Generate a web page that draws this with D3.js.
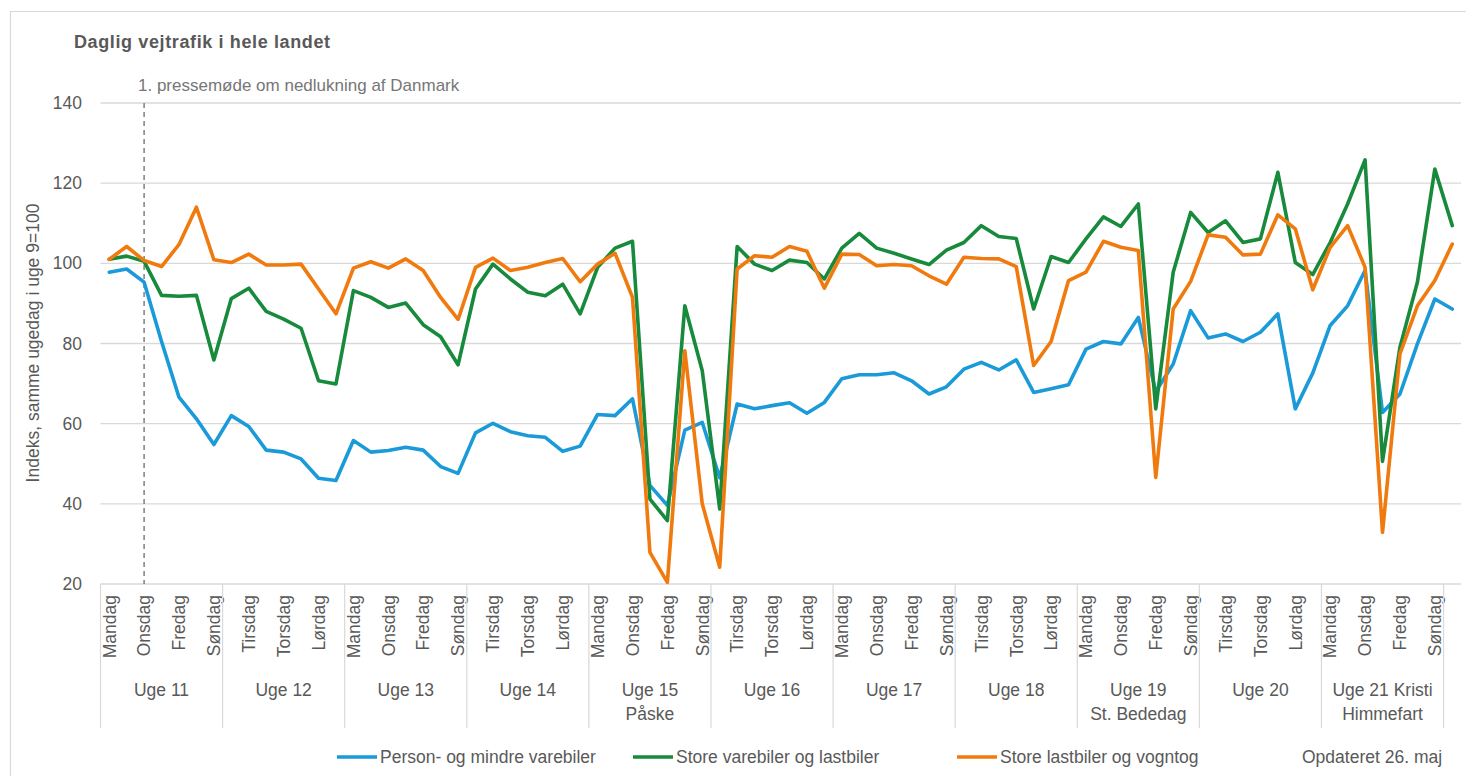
<!DOCTYPE html>
<html>
<head>
<meta charset="utf-8">
<script src="https://cdn.jsdelivr.net/npm/d3@7"></script>
<style>
  html, body { margin: 0; padding: 0; background: #fff; }
  svg { display: block; }
  text { font-family: "Liberation Sans", Arial, sans-serif; fill: #595959; }
</style>
</head>
<body>
<svg id="chart" width="1466" height="776"></svg>
<script>
// ---------- DATA ----------
const dayNames = ["Mandag", "Tirsdag", "Onsdag", "Torsdag", "Fredag", "Lørdag", "Søndag"];
const weekLabels = [
  ["Uge 11"], ["Uge 12"], ["Uge 13"], ["Uge 14"], ["Uge 15", "Påske"],
  ["Uge 16"], ["Uge 17"], ["Uge 18"], ["Uge 19", "St. Bededag"], ["Uge 20"],
  ["Uge 21 Kristi", "Himmefart"]
];
const yTicks = [20, 40, 60, 80, 100, 120, 140];
const seriesNames = ["Person- og mindre varebiler", "Store varebiler og lastbiler", "Store lastbiler og vogntog"];

const personbiler = [
  97.8, 98.6, 95.3, 80.5, 66.6, 61.2, 54.8,
  62.0, 59.3, 53.4, 52.9, 51.2, 46.4, 45.8,
  55.8, 52.9, 53.3, 54.1, 53.4, 49.3, 47.6,
  57.7, 60.1, 58.0, 57.0, 56.6, 53.1, 54.4,
  62.3, 62.0, 66.2, 44.6, 39.6, 58.4, 60.3,
  46.5, 64.9, 63.7, 64.5, 65.2, 62.6, 65.3,
  71.2, 72.2, 72.2, 72.7, 70.7, 67.4, 69.2,
  73.6, 75.3, 73.4, 75.9, 67.8, 68.7, 69.7,
  78.6, 80.5, 79.9, 86.5, 68.0, 74.9, 88.2,
  81.4, 82.4, 80.5, 82.8, 87.4, 63.7, 72.6,
  84.5, 89.4, 98.2, 62.8, 67.4, 79.9, 91.1,
  88.6
];
const storeVarebiler = [
  101.0, 101.8, 100.5, 92.0, 91.8, 92.0, 75.9,
  91.2, 93.8, 88.0, 86.1, 83.8, 70.7, 69.9,
  93.2, 91.5, 89.0, 90.1, 84.7, 81.7, 74.7,
  93.6, 99.8, 96.1, 92.8, 91.9, 94.8, 87.4,
  99.0, 103.8, 105.5, 41.2, 35.8, 89.4, 73.2,
  38.7, 104.2, 99.8, 98.2, 100.8, 100.2, 96.1,
  103.8, 107.5, 103.8, 102.5, 101.1, 99.7, 103.3,
  105.2, 109.4, 106.7, 106.2, 88.6, 101.7, 100.2,
  106.1, 111.6, 109.2, 114.8, 63.7, 97.8, 112.7,
  107.7, 110.6, 105.2, 106.1, 122.7, 100.2, 97.2,
  105.2, 114.8, 125.8, 50.6, 79.1, 95.3, 123.5,
  109.4
];
const lastbilerVogntog = [
  101.0, 104.2, 100.7, 99.2, 104.7, 114.0, 100.9,
  100.2, 102.3, 99.6, 99.6, 99.8, 93.6, 87.4,
  98.8, 100.4, 98.8, 101.1, 98.2, 91.5, 86.0,
  99.0, 101.3, 98.2, 99.0, 100.2, 101.2, 95.4,
  99.8, 102.5, 91.5, 27.9, 20.4, 78.2, 40.0,
  24.2, 98.6, 101.9, 101.5, 104.2, 103.0, 93.8,
  102.3, 102.2, 99.4, 99.7, 99.4, 96.9, 94.8,
  101.5, 101.2, 101.1, 99.2, 74.5, 80.5, 95.7,
  97.8, 105.5, 104.0, 103.2, 46.6, 88.6, 95.5,
  107.1, 106.5, 102.1, 102.3, 112.1, 108.6, 93.4,
  104.0, 109.4, 99.0, 32.9, 77.4, 89.4, 95.7,
  104.8
];
const colors = ["#1A9AD8", "#178A3C", "#F07A0E"];
const annotationIndex = 2; // Onsdag, uge 11
const annotationText = "1. pressemøde om nedlukning af Danmark";
const titleText = "Daglig vejtrafik i hele landet";
const yTitle = "Indeks, samme ugedag i uge 9=100";
const updatedText = "Opdateret 26. maj";

// ---------- LAYOUT ----------
const svg = d3.select("#chart");
const plotLeft = 100.5, plotRight = 1461, plotTop = 103, plotBottom = 584;
const nDays = personbiler.length;
const idx = d3.range(nDays);

const x = d3.scaleBand().domain(idx).range([plotLeft, plotRight]).paddingInner(0).paddingOuter(0);
const bw = x.bandwidth();
const cx = i => x(i) + bw / 2;
const y = d3.scaleLinear().domain([20, 140]).range([plotBottom, plotTop]);

// chart border (partially visible)
svg.append("path")
  .attr("d", `M10.5,776 L10.5,11.5 L1466,11.5`)
  .attr("fill", "none").attr("stroke", "#d9d9d9").attr("stroke-width", 1.2);

// title
svg.append("text").attr("x", 74).attr("y", 48)
  .attr("font-size", 18).attr("font-weight", "bold")
  .attr("textLength", 256).attr("lengthAdjust", "spacing")
  .style("fill", "#595959")
  .text(titleText);

// gridlines
svg.append("g").selectAll("line").data(yTicks).join("line")
  .attr("x1", plotLeft).attr("x2", plotRight)
  .attr("y1", d => y(d)).attr("y2", d => y(d))
  .attr("stroke", "#d9d9d9").attr("stroke-width", 1.4);

// y axis labels
const yAxis = d3.axisLeft(y).tickValues(yTicks).tickSize(0).tickPadding(0);
const yg = svg.append("g").attr("transform", `translate(82,0)`).call(yAxis);
yg.select(".domain").remove();
yg.selectAll("text").attr("font-size", 17.5).style("fill", "#595959")
  .attr("font-family", "Liberation Sans, Arial, sans-serif");

// y title
svg.append("text")
  .attr("transform", `translate(39,343) rotate(-90)`)
  .attr("text-anchor", "middle").attr("font-size", 17.5)
  .text(yTitle);

// annotation dashed line
svg.append("line")
  .attr("x1", cx(annotationIndex)).attr("x2", cx(annotationIndex))
  .attr("y1", plotTop).attr("y2", plotBottom)
  .attr("stroke", "#7f7f7f").attr("stroke-width", 1.5)
  .attr("stroke-dasharray", "5,4");
svg.append("text").attr("x", 138).attr("y", 91)
  .attr("font-size", 17).style("fill", "#767676")
  .text(annotationText);

// x axis day labels
const xAxis = d3.axisBottom(x)
  .tickValues(idx.filter(i => i % 2 === 0))
  .tickFormat(i => dayNames[i % 7])
  .tickSize(0).tickPadding(0);
const xg = svg.append("g").attr("transform", `translate(0,${plotBottom})`).call(xAxis);
xg.select(".domain").remove();
xg.selectAll("text")
  .attr("font-size", 17.5).attr("font-family", "Liberation Sans, Arial, sans-serif")
  .style("fill", "#595959")
  .attr("text-anchor", "end")
  .attr("transform", "rotate(-90)")
  .attr("x", -11).attr("y", 0).attr("dy", "0.36em");

// week separators
const weekStarts = d3.range(weekLabels.length + 1).map(k => x(0) + k * 7 * bw);
svg.append("g").selectAll("line").data(weekStarts).join("line")
  .attr("x1", d => d).attr("x2", d => d)
  .attr("y1", plotBottom).attr("y2", 728)
  .attr("stroke", "#d9d9d9").attr("stroke-width", 1.2);

// week labels
const wg = svg.append("g");
weekLabels.forEach((lines, k) => {
  const mid = x(0) + (k * 7 + 3.5) * bw;
  const t = wg.append("text").attr("x", mid).attr("y", 696)
    .attr("text-anchor", "middle").attr("font-size", 17.5);
  lines.forEach((ln, j) => {
    t.append("tspan").attr("x", mid).attr("dy", j === 0 ? 0 : 24).text(ln);
  });
});

// lines
const allSeries = [personbiler, storeVarebiler, lastbilerVogntog];
const lineGen = d3.line().x((d, i) => cx(i)).y(d => y(d));
const order = [0, 1, 2];
svg.append("g").selectAll("path").data(order).join("path")
  .attr("d", s => lineGen(allSeries[s]))
  .attr("fill", "none")
  .attr("stroke", s => colors[s])
  .attr("stroke-width", 3.6)
  .attr("stroke-linejoin", "round")
  .attr("stroke-linecap", "round");

// legend
const legendItems = [
  { x: 337, s: 0 },
  { x: 633, s: 1 },
  { x: 957, s: 2 }
];
const lg = svg.append("g");
legendItems.forEach(it => {
  lg.append("line").attr("x1", it.x).attr("x2", it.x + 40)
    .attr("y1", 757).attr("y2", 757)
    .attr("stroke", colors[it.s]).attr("stroke-width", 3.6);
  lg.append("text").attr("x", it.x + 43).attr("y", 763)
    .attr("font-size", 17.5).text(seriesNames[it.s]);
});
svg.append("text").attr("x", 1302).attr("y", 763)
  .attr("font-size", 17.5).text(updatedText);
</script>
</body>
</html>
